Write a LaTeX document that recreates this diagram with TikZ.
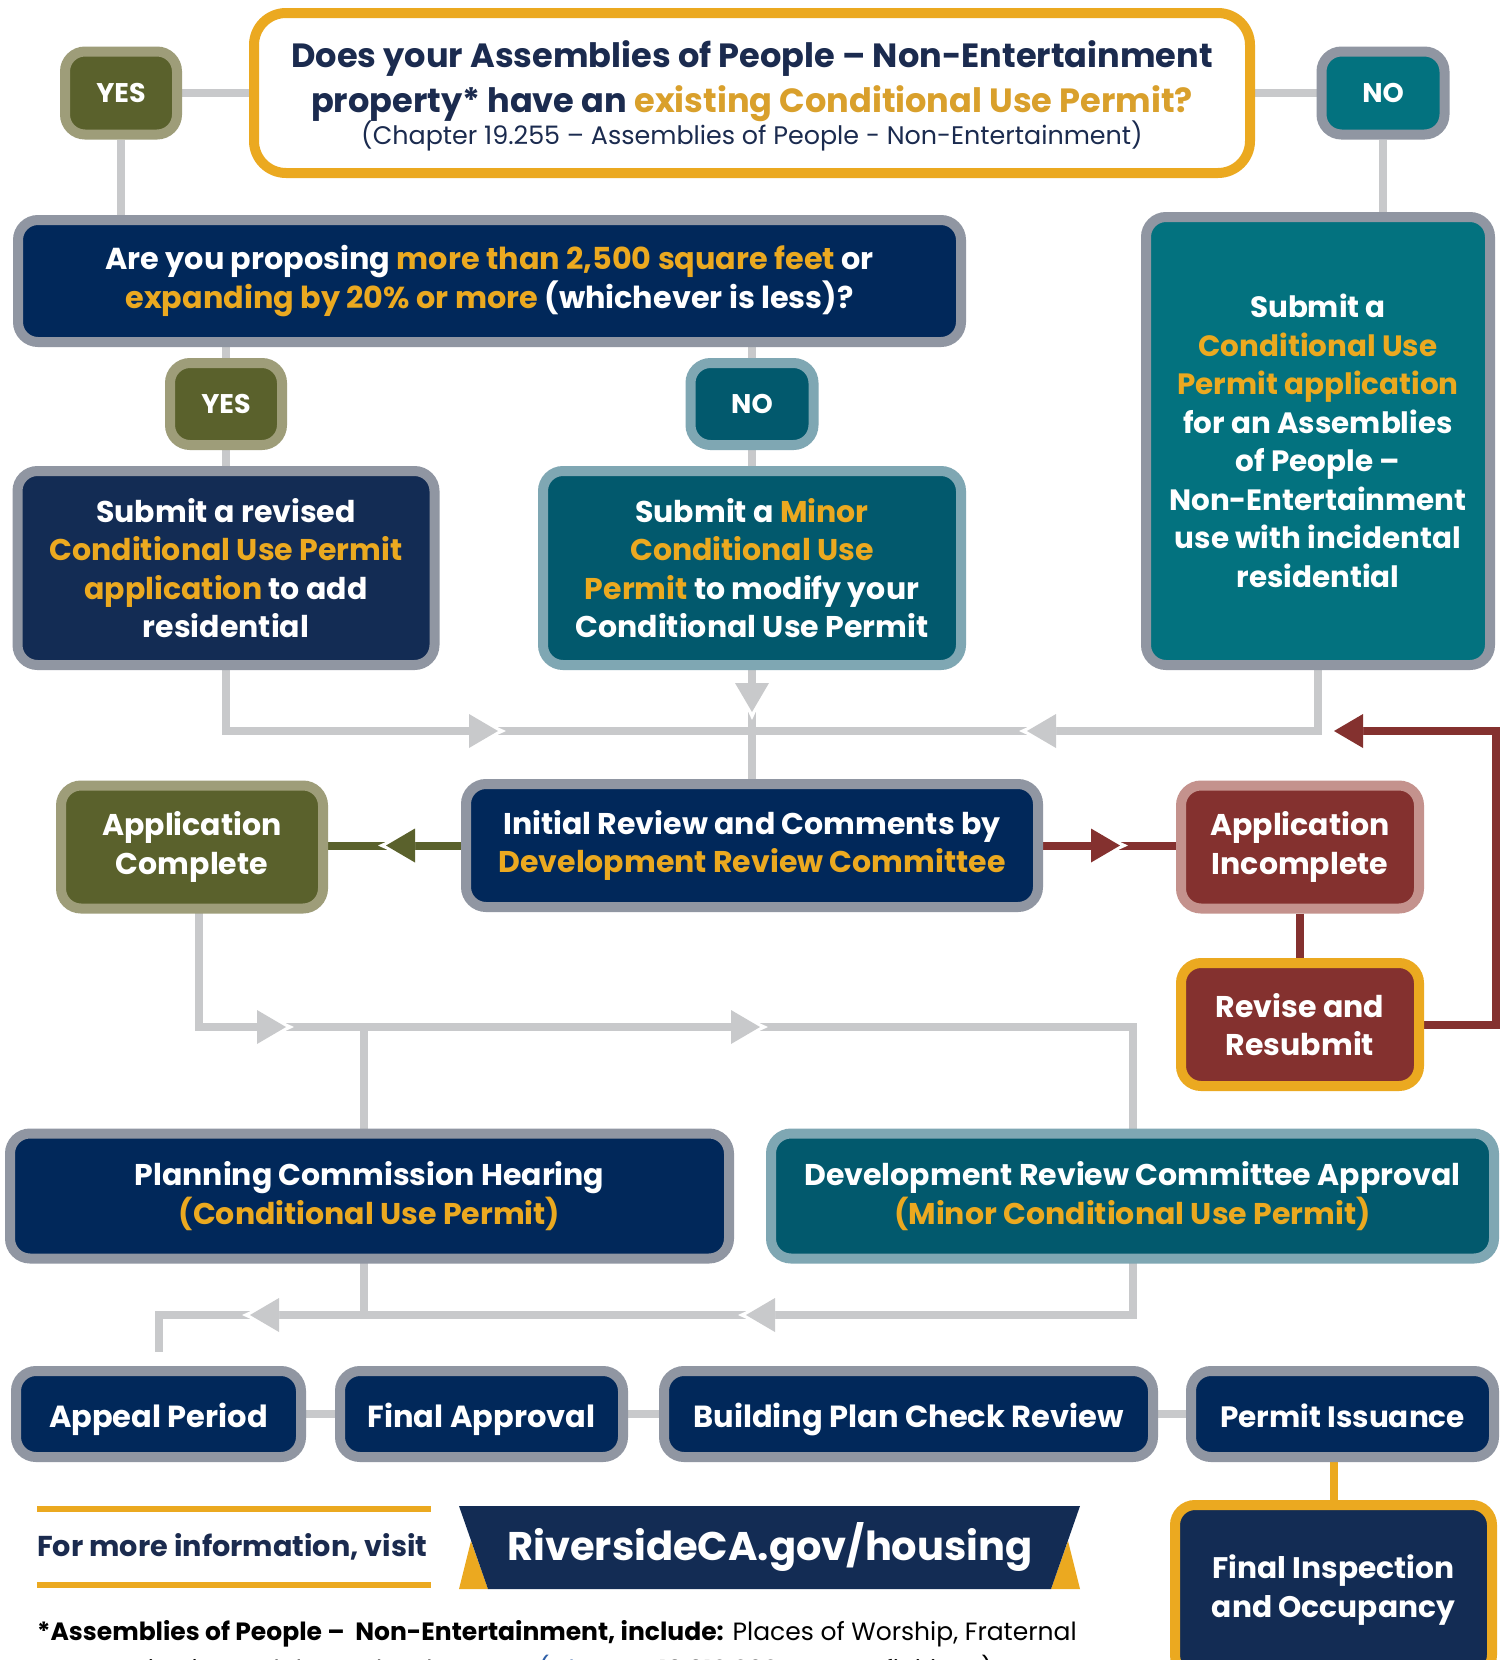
\documentclass[tikz,border=0pt]{standalone}
\usepackage{fontspec}
\setmainfont{Poppins}
\usetikzlibrary{backgrounds}
\definecolor{navy}{HTML}{01285A}
\definecolor{navyb}{HTML}{132C54}
\definecolor{grayb}{HTML}{9096A2}
\definecolor{gold}{HTML}{EBA920}
\definecolor{goldt}{HTML}{D9A02C}
\definecolor{tealc}{HTML}{03727F}
\definecolor{dteal}{HTML}{02596D}
\definecolor{lteal}{HTML}{7FA7B3}
\definecolor{olivec}{HTML}{5A612C}
\definecolor{oliveb}{HTML}{9E9D79}
\definecolor{maroon}{HTML}{84312F}
\definecolor{pinkb}{HTML}{C4928D}
\definecolor{lgray}{HTML}{C8C9CB}
\definecolor{titlec}{HTML}{1B2B4F}
\definecolor{linkc}{HTML}{2E5FA8}
\newcommand\hl[1]{\textcolor{gold}{#1}}
\newcommand\chev[3][lgray]{%
  \begin{scope}[shift={#2},rotate=#3]
    \fill[white] (0,-17) -- (37,0) -- (0,17) -- cycle;
    \fill[#1] (0,-17) -- (29,0) -- (0,17) -- cycle;
  \end{scope}}
\tikzset{
  box/.style={draw, line width=10pt, rounded corners=20pt, inner sep=0pt, align=center, text=white,
    font=\bfseries\fontsize{30}{38.5}\selectfont},
  navybox/.style={box, fill=navy, draw=grayb},
  navybbox/.style={box, fill=navyb, draw=grayb},
  tealbox/.style={box, fill=tealc, draw=grayb},
  dtealbox/.style={box, fill=dteal, draw=lteal},
  olivebox/.style={box, fill=olivec, draw=oliveb},
  redbox/.style={box, fill=maroon, draw=pinkb},
  yesno/.style={font=\bfseries\fontsize{27}{30}\selectfont},
  bottombox/.style={navybox, font=\bfseries\fontsize{30.5}{36}\selectfont, text height=30pt, text depth=4pt},
  conn/.style={draw=lgray, line width=8pt},
}
\begin{document}
\begin{tikzpicture}[x=1pt,y=-1pt]
\useasboundingbox (0,0) rectangle (1507,1660);
\clip (0,0) rectangle (1507,1660);

% top question
\node[box, draw=gold, fill=white, rounded corners=32pt, minimum width=996pt, minimum height=160pt] (q) at (752,93) {};
\node[text=titlec, font=\bfseries\fontsize{33.6}{40}\selectfont] (q1) at (752,59) {Does your Assemblies of People – Non-Entertainment};
\node[text=titlec, font=\bfseries\fontsize{33.6}{40}\selectfont] (q2) at (752,104) {property* have an \textcolor{goldt}{existing Conditional Use Permit?}};
\node[text=titlec, font=\fontsize{25.4}{30}\selectfont] (q3) at (752,136) {(Chapter 19.255 – Assemblies of People - Non-Entertainment)};

\node[olivebox, yesno, minimum width=112pt, minimum height=83pt] (yes1) at (121,93) {YES};
\node[tealbox, yesno, minimum width=123pt, minimum height=83pt] (no1) at (1383,93) {NO};

\node[navybox, font=\bfseries\fontsize{30.3}{38.5}\selectfont, minimum width=943pt, minimum height=122pt] (box2) at (489.5,281)
  {Are you proposing \hl{more than 2,500 square feet} or\\ \hl{expanding by 20\% or more} (whichever is less)?};

\node[tealbox, font=\bfseries\fontsize{29.4}{38.5}\selectfont, minimum width=344pt, minimum height=448pt] (box6) at (1318,441)
  {Submit a\\ \hl{Conditional Use}\\ \hl{Permit application}\\ for an Assemblies\\ of People –\\ Non-Entertainment\\ use with incidental\\ residential};

\node[olivebox, yesno, minimum width=112pt, minimum height=82pt] (yes2) at (226,404) {YES};
\node[dtealbox, yesno, minimum width=123pt, minimum height=82pt] (no2) at (752,404) {NO};

\node[navybbox, minimum width=417pt, minimum height=194pt] (box9) at (226,568)
  {Submit a revised\\ \hl{Conditional Use Permit}\\ \hl{application} to add\\ residential};
\node[dtealbox, minimum width=418pt, minimum height=194pt] (box10) at (752,568)
  {Submit a \hl{Minor}\\ \hl{Conditional Use}\\ \hl{Permit} to modify your\\ Conditional Use Permit};

\node[olivebox, minimum width=262pt, minimum height=123pt] (appc) at (192,847) {Application\\ Complete};
\node[navybox, minimum width=572pt, minimum height=123pt] (init) at (752,845.5)
  {Initial Review and Comments by\\ \hl{Development Review Committee}};
\node[redbox, minimum width=238pt, minimum height=123pt] (appi) at (1300,847) {Application\\ Incomplete};
\node[box, fill=maroon, draw=gold, minimum width=238pt, minimum height=123pt] (rev) at (1300,1024.5) {Revise and\\ Resubmit};

\node[navybox, minimum width=719pt, minimum height=125pt] (plan) at (369.5,1196)
  {Planning Commission Hearing\\ \hl{(Conditional Use Permit)}};
\node[dtealbox, minimum width=723pt, minimum height=125pt] (drc) at (1132.5,1196)
  {Development Review Committee Approval\\ \hl{(Minor Conditional Use Permit)}};

\node[bottombox, minimum width=285pt, minimum height=86pt] (appeal) at (158.5,1414) {Appeal Period};
\node[bottombox, minimum width=283pt, minimum height=86pt] (fapp) at (481.5,1414) {Final Approval};
\node[bottombox, minimum width=489pt, minimum height=86pt] (bld) at (908.5,1414) {Building Plan Check Review};
\node[bottombox, font=\bfseries\fontsize{29.5}{36}\selectfont, minimum width=303pt, minimum height=86pt] (permit) at (1342.5,1414) {Permit Issuance};
\node[box, fill=navyb, draw=gold, font=\bfseries\fontsize{29.7}{39}\selectfont, minimum width=317pt, minimum height=170pt] (finsp) at (1333.5,1590)
  {Final Inspection\\ and Occupancy};

% footer
\draw[gold, line width=6pt] (37,1509) -- (431,1509);
\draw[gold, line width=6pt] (37,1585) -- (431,1585);
\node[anchor=west, text=titlec, inner sep=0pt, font=\bfseries\fontsize{28.7}{32}\selectfont] (info) at (37,1547) {For more information, visit};
\fill[gold] (459,1589) -- (488,1589) -- (471,1541) -- cycle;
\fill[gold] (1080,1589) -- (1051,1589) -- (1068,1541) -- cycle;
\fill[navyb] (459,1506) -- (1080,1506) -- (1051,1589) -- (488,1589) -- cycle;
\node[text=white, font=\bfseries\fontsize{40}{46}\selectfont] (url) at (770,1547) {RiversideCA.gov/housing};
\node[anchor=west, inner sep=0pt, text=black, font=\fontsize{25}{30}\selectfont] (fn1) at (37,1634)
  {\textbf{*Assemblies of People –\ \ Non-Entertainment, include:} Places of Worship, Fraternal};
\node[anchor=west, inner sep=0pt, text=black, font=\fontsize{25}{30}\selectfont] (fn2) at (69,1670)
  {Organizations, Clubs and Lodges, per \textcolor{linkc}{(Chapter} 19.910.020 – “A” Definitions)};

\begin{scope}[on background layer]
  \fill[white] (0,0) rectangle (1507,1660);
  \coordinate (hub1) at (752,731);
  \coordinate (h2) at (1133,1027);
  \coordinate (pb) at (364,1027);
  \coordinate (h3) at (364,1315);
  \coordinate (rl) at (1496,731);
  \coordinate (redend) at (1363,731);
  % top connectors
  \draw[conn] (yes1) -- (q);
  \draw[conn] (no1) -- (q);
  \draw[conn] (yes1) -- (yes1 |- box2);
  \draw[conn] (no1) -- (no1 |- box6);
  \draw[conn] (yes2 |- box2) -- (box9);
  \draw[conn] (no2 |- box2) -- (box10);
  % merge into initial review
  \draw[conn] (box9) |- (hub1);
  \draw[conn] (box10) -- (init);
  \draw[conn] (box6) |- (hub1);
  \chev{(469,731)}{0}
  \chev{(752,683)}{-90}
  \chev{(1056,731)}{180}
  % complete / incomplete
  \draw[olivec, line width=8pt] (init) -- (init -| appc);
  \chev[olivec]{(415,845.5)}{180}
  \draw[maroon, line width=8pt] (init) -- (init -| appi);
  \chev[maroon]{(1091,845.5)}{0}
  \draw[maroon, line width=8pt] (appi) -- (rev);
  \draw[maroon, line width=8pt] (rev.east) -| (rl) -- (redend);
  \chev[maroon]{(1363,731)}{180}
  % to hearing / approval
  \draw[conn] ([xshift=7pt]appc.center) |- (h2) -- (h2 |- drc.center);
  \draw[conn] (pb) -- (pb |- plan.center);
  \chev{(257,1027)}{0}
  \chev{(731,1027)}{0}
  % to appeal
  \draw[conn] (pb |- plan.center) -- (h3);
  \draw[conn] (h2 |- drc.center) |- (h3) -| ([yshift=14pt]appeal.north);
  \chev{(775,1315)}{180}
  \chev{(279,1315)}{180}
  % bottom row
  \draw[conn] (appeal) -- (fapp) -- (bld) -- (permit);
  \draw[gold, line width=8pt] (finsp.center |- permit.center) -- (finsp.center);
\end{scope}
\end{tikzpicture}
\end{document}
